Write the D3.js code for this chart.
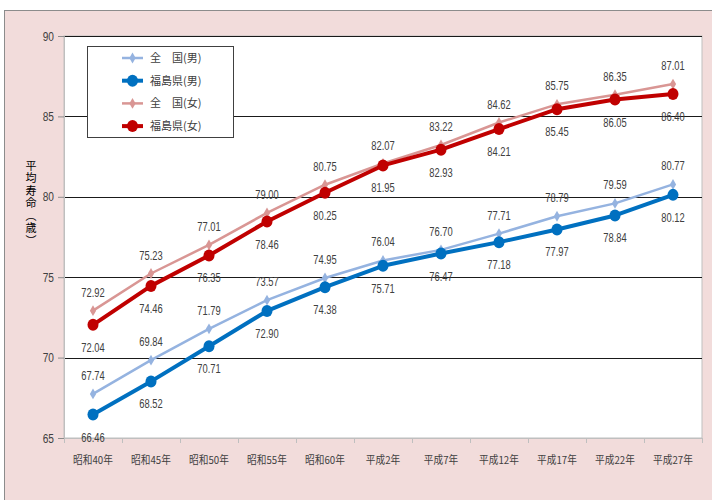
<!DOCTYPE html>
<html>
<head>
<meta charset="utf-8">
<script src="https://cdn.jsdelivr.net/npm/d3@7"></script>
<style>
  body { margin: 0; background: #fff; }
  svg { display: block; }
  .num { font-family: "Liberation Sans", Arial, sans-serif; }
  .jp { font-family: "Noto Sans CJK JP", sans-serif; }
</style>
</head>
<body>
<svg id="chart" width="712" height="500"></svg>
<script>
// years on the x axis
const categories = ["昭和40年", "昭和45年", "昭和50年", "昭和55年", "昭和60年", "平成2年",
  "平成7年", "平成12年", "平成17年", "平成22年", "平成27年"];

const zenkokuMale = [67.74, 69.84, 71.79, 73.57, 74.95, 76.04, 76.70, 77.71, 78.79, 79.59, 80.77];
const fukushimaMale = [66.46, 68.52, 70.71, 72.90, 74.38, 75.71, 76.47, 77.18, 77.97, 78.84, 80.12];
const zenkokuFemale = [72.92, 75.23, 77.01, 79.00, 80.75, 82.07, 83.22, 84.62, 85.75, 86.35, 87.01];
const fukushimaFemale = [72.04, 74.46, 76.35, 78.46, 80.25, 81.95, 82.93, 84.21, 85.45, 86.05, 86.40];

const yTicks = [65, 70, 75, 80, 85, 90];
const seriesNames = ["全\u3000国(男)", "福島県(男)", "全\u3000国(女)", "福島県(女)"];

const series = [
  { name: seriesNames[0], values: zenkokuMale, color: "#95b3e0", width: 2.5, marker: "diamond", label: "above" },
  { name: seriesNames[1], values: fukushimaMale, color: "#0070c0", width: 4, marker: "circle", label: "below" },
  { name: seriesNames[2], values: zenkokuFemale, color: "#d99694", width: 2.5, marker: "diamond", label: "above" },
  { name: seriesNames[3], values: fukushimaFemale, color: "#c00000", width: 4, marker: "circle", label: "below" }
];

const svg = d3.select("#chart");
const plot = { left: 64, right: 702, top: 36, bottom: 438 };
const narrow = 0.78; // squeeze the numbers like the narrow office font

// background of whole chart
svg.append("rect")
  .attr("x", 4.5).attr("y", 10.5)
  .attr("width", 740).attr("height", 520)
  .attr("fill", "#f2dcdb")
  .attr("stroke", "#8c8c8c");

svg.append("rect")
  .attr("x", plot.left).attr("y", plot.top)
  .attr("width", plot.right - plot.left).attr("height", plot.bottom - plot.top)
  .attr("fill", "#fff")
  .attr("stroke", "#bfbfbf");

const x = d3.scaleBand().domain(categories).range([plot.left, plot.right]);
const y = d3.scaleLinear().domain([65, 90]).range([plot.bottom, plot.top]);
const cx = d => x(d) + x.bandwidth() / 2;

// gridlines
svg.append("g")
  .selectAll("line")
  .data(yTicks.slice(1))
  .enter()
  .append("line")
  .attr("x1", plot.left).attr("x2", plot.right)
  .attr("y1", d => Math.round(y(d)) + 0.5).attr("y2", d => Math.round(y(d)) + 0.5)
  .attr("stroke", "#1a1a1a")
  .attr("stroke-width", 1);

// y axis
const yAxis = svg.append("g")
  .attr("transform", `translate(${plot.left},0)`)
  .call(d3.axisLeft(y).tickValues(yTicks).tickSize(6).tickPadding(0));
yAxis.select(".domain").attr("stroke", "#bfbfbf");
yAxis.selectAll(".tick line").attr("stroke", "#8c8c8c");
yAxis.selectAll("text")
  .attr("class", "num")
  .attr("font-size", 13)
  .attr("fill", "#404040")
  .attr("x", 0)
  .attr("transform", `translate(-10,0) scale(${narrow},1)`);

// x axis, ticks between categories
const xAxis = svg.append("g")
  .attr("transform", `translate(0,${plot.bottom})`)
  .call(d3.axisBottom(x).tickSize(0).tickPadding(0));
xAxis.select(".domain").attr("stroke", "#bfbfbf");
xAxis.selectAll("text")
  .attr("class", "jp")
  .attr("font-size", 11)
  .attr("fill", "#404040")
  .attr("y", 0).attr("dy", null)
  .attr("transform", "translate(0,26) scale(0.88,1)");
xAxis.selectAll(".sep")
  .data(categories.concat([null]))
  .enter()
  .append("line")
  .attr("class", "sep")
  .attr("x1", (d, i) => Math.round(plot.left + i * x.bandwidth()) + 0.5)
  .attr("x2", (d, i) => Math.round(plot.left + i * x.bandwidth()) + 0.5)
  .attr("y1", 0).attr("y2", 5)
  .attr("stroke", "#bfbfbf");

// y axis title, vertical writing
svg.append("text")
  .attr("class", "jp")
  .attr("font-size", 11)
  .attr("fill", "#000")
  .attr("x", 31).attr("y", 160)
  .style("writing-mode", "vertical-rl")
  .style("letter-spacing", "1.5px")
  .text("平均寿命（歳）");

function drawMarker(g, s, px, py) {
  if (s.marker === "circle") {
    g.append("ellipse")
      .attr("cx", px).attr("cy", py).attr("rx", 5.5).attr("ry", 6)
      .attr("fill", s.color);
  } else {
    g.append("path")
      .attr("d", d3.symbol().type(d3.symbolDiamond).size(34))
      .attr("transform", `translate(${px},${py})`)
      .attr("fill", s.color);
  }
}

const line = d3.line()
  .x((d, i) => cx(categories[i]))
  .y(d => y(d));

// lines and markers
series.forEach(s => {
  const g = svg.append("g");
  g.append("path")
    .datum(s.values)
    .attr("d", line)
    .attr("fill", "none")
    .attr("stroke", s.color)
    .attr("stroke-width", s.width)
    .attr("stroke-linejoin", "round");
  s.values.forEach((v, i) => drawMarker(g, s, cx(categories[i]), y(v)));
});

// data labels
series.forEach(s => {
  svg.append("g")
    .selectAll("text")
    .data(s.values)
    .enter()
    .append("text")
    .attr("class", "num")
    .attr("font-size", 12)
    .attr("fill", "#404040")
    .attr("text-anchor", "middle")
    .attr("transform", (d, i) => {
      const ty = s.label === "above" ? y(d) - 14 : y(d) + 27;
      return `translate(${cx(categories[i])},${ty}) scale(${narrow},1)`;
    })
    .text(d => d.toFixed(2));
});

// legend
const legend = svg.append("g");
legend.append("rect")
  .attr("x", 87.5).attr("y", 46.5)
  .attr("width", 146).attr("height", 91)
  .attr("fill", "#fff")
  .attr("stroke", "#404040");
series.forEach((s, i) => {
  const ly = 58 + i * 22.7;
  legend.append("line")
    .attr("x1", 122).attr("x2", 143)
    .attr("y1", ly).attr("y2", ly)
    .attr("stroke", s.color)
    .attr("stroke-width", s.width);
  drawMarker(legend, s, 132.5, ly);
  legend.append("text")
    .attr("class", "jp")
    .attr("font-size", 11)
    .attr("fill", "#404040")
    .attr("x", 150)
    .attr("y", ly + 4)
    .text(s.name);
});
</script>
</body>
</html>
